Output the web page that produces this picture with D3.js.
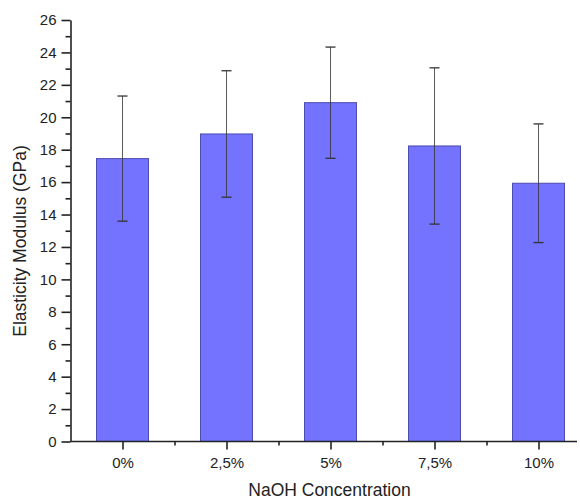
<!DOCTYPE html>
<html><head><meta charset="utf-8">
<script src="https://cdn.jsdelivr.net/npm/d3@7/dist/d3.min.js"></script>
<style>body{margin:0;background:#fff}svg{display:block}text{font-family:"Liberation Sans",Arial,sans-serif;fill:#222}</style>
</head><body><svg id="c" width="580" height="498"></svg>
<script>
const categories = ["0%", "2,5%", "5%", "7,5%", "10%"];
const values = [17.45, 18.97, 20.9, 18.23, 15.93];
const errors = [3.86, 3.9, 3.43, 4.82, 3.66];
const yTicks = [0, 2, 4, 6, 8, 10, 12, 14, 16, 18, 20, 22, 24, 26];
const xTitle = "NaOH Concentration";
const yTitle = "Elasticity Modulus (GPa)";

(function () {
const svg = d3.select("#c");
const mLeft = 70.5, mRight = 577, mTop = 20, mBottom = 441.5;
const x = d3.scaleLinear().domain([0.5, 5.5]).range([mLeft, mLeft + 520]);
const y = d3.scaleLinear().domain([0, 26]).range([mBottom, mTop]);
const bw = 52;

const g = svg.append("g");
g.selectAll("rect.bar").data(values).join("rect")
  .attr("x", (d, i) => x(i + 1) - bw / 2)
  .attr("y", d => y(d))
  .attr("width", bw)
  .attr("height", d => y(0) - y(d))
  .attr("fill", "#7373ff")
  .attr("stroke", "#4b4bb0")
  .attr("stroke-width", 1);

const eb = g.selectAll("g.err").data(values).join("g");
eb.append("line")
  .attr("x1", (d, i) => x(i + 1)).attr("x2", (d, i) => x(i + 1))
  .attr("y1", (d, i) => y(d + errors[i])).attr("y2", (d, i) => y(d - errors[i]))
  .attr("stroke", "#333").attr("stroke-opacity", 0.8).attr("stroke-width", 1);
eb.append("line")
  .attr("x1", (d, i) => x(i + 1) - 5).attr("x2", (d, i) => x(i + 1) + 5)
  .attr("y1", (d, i) => y(d + errors[i])).attr("y2", (d, i) => y(d + errors[i]))
  .attr("stroke", "#333").attr("stroke-width", 1.3);
eb.append("line")
  .attr("x1", (d, i) => x(i + 1) - 5).attr("x2", (d, i) => x(i + 1) + 5)
  .attr("y1", (d, i) => y(d - errors[i])).attr("y2", (d, i) => y(d - errors[i]))
  .attr("stroke", "#333").attr("stroke-width", 1.3);

const yAxis = d3.axisLeft(y).tickValues(yTicks).tickSize(9).tickPadding(5).tickSizeOuter(0);
const ya = svg.append("g").attr("transform", `translate(${mLeft},0)`).call(yAxis);
ya.selectAll("text").style("font-size", "15px");
const yMinor = d3.axisLeft(y).tickValues(yTicks.slice(0, -1).map(v => v + 1)).tickSize(5).tickFormat("").tickSizeOuter(0);
svg.append("g").attr("transform", `translate(${mLeft},0)`).call(yMinor).select(".domain").remove();

const xAxis = d3.axisBottom(x).tickValues(categories.map((c, i) => i + 1))
  .tickFormat((d) => categories[d - 1]).tickSize(8).tickPadding(8).tickSizeOuter(0);
const xa = svg.append("g").attr("transform", `translate(0,${mBottom})`).call(xAxis);
xa.select(".domain").attr("d", `M${mLeft},0H${mRight}`);
xa.selectAll("text").style("font-size", "15px");
const xMinor = d3.axisBottom(x).tickValues(categories.slice(0, -1).map((c, i) => i + 1.5)).tickSize(4).tickFormat("");
svg.append("g").attr("transform", `translate(0,${mBottom})`).call(xMinor).select(".domain").remove();

svg.selectAll(".domain, .tick line").attr("stroke", "#222").attr("stroke-width", 1.6);

svg.append("text").attr("x", 329.5).attr("y", 495.5).attr("text-anchor", "middle")
  .style("font-size", "17.5px").text(xTitle);
svg.append("text").attr("transform", `translate(26,241) rotate(-90)`)
  .attr("text-anchor", "middle").style("font-size", "17.5px").text(yTitle);
})();
</script></body></html>
